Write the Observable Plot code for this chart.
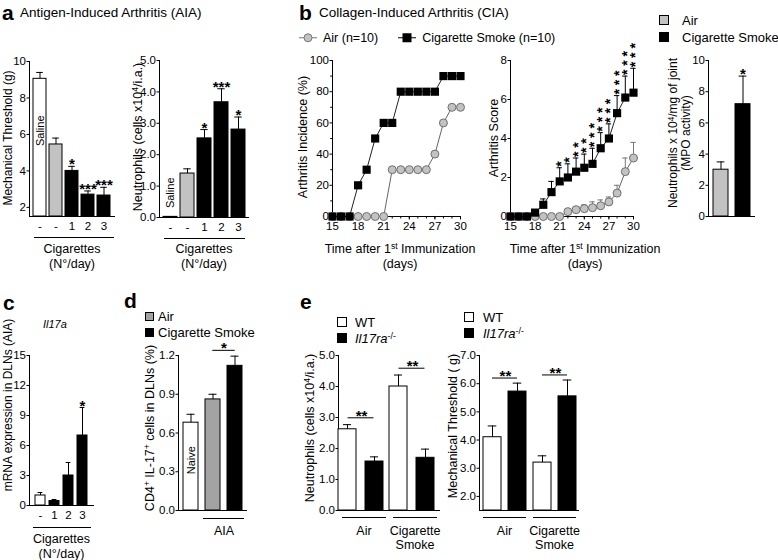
<!DOCTYPE html>
<html><head><meta charset="utf-8">
<script src="https://cdn.jsdelivr.net/npm/d3@7"></script>
<script src="https://cdn.jsdelivr.net/npm/@observablehq/plot@0.6"></script>
<style>
body{margin:0;background:#fff;}
#fig{position:relative;width:778px;height:560px;font-family:"Liberation Sans",Arial,Helvetica,sans-serif;color:#000;overflow:hidden;background:#fff}
.t{position:absolute;white-space:nowrap;line-height:1}
.rot{position:absolute;white-space:nowrap;line-height:1;text-align:center;transform:translate(-50%,-50%) rotate(-90deg)}
sup{font-size:0.68em;line-height:0;vertical-align:0.45em}
.sw{position:absolute;box-sizing:border-box;border:1px solid #000}
</style></head><body><div id="fig"></div>
<script>
// ================= DATA =================
// Panel a — Antigen-Induced Arthritis (AIA)
const aCategories = ["Saline", "Air", "1", "2", "3"];
const aTickLabels = ["-", "-", "1", "2", "3"];
const aTreatment = ["saline", "air", "smoke", "smoke", "smoke"];
const aThreshold = [9.05, 5.45, 4.0, 2.7, 2.65];
const aThresholdErr = [0.35, 0.35, 0.25, 0.2, 0.45];
const aThresholdSig = ["", "", "*", "***", "***"];
const aThresholdTicks = [2, 4, 6, 8, 10];
const aNeutrophils = [0.02, 1.4, 2.52, 3.67, 2.8];
const aNeutrophilsErr = [0, 0.15, 0.28, 0.43, 0.4];
const aNeutrophilsSig = ["", "", "*", "***", "*"];
const aNeutrophilsTicks = [0, 1, 2, 3, 4, 5];

// Panel b — Collagen-Induced Arthritis (CIA)
const bDays = [15, 16, 17, 18, 19, 20, 21, 22, 23, 24, 25, 26, 27, 28, 29, 30];
const bDayTicks = [15, 18, 21, 24, 27, 30];
const bIncidenceAir = [0, 0, 0, 0, 0, 0, 0, 30, 30, 30, 30, 30, 40, 60, 70, 70];
const bIncidenceSmoke = [0, 0, 0, 20, 30, 50, 60, 60, 80, 80, 80, 80, 80, 90, 90, 90];
const bIncidenceTicks = [0, 20, 40, 60, 80, 100];
const bIncidenceMinor = [10, 30, 50, 70, 90];
const bScoreAir = [0, 0, 0, 0, 0, 0, 0, 0.25, 0.35, 0.4, 0.45, 0.55, 0.75, 1.2, 2.3, 3.0];
const bScoreAirErr = [0, 0, 0, 0, 0, 0, 0, 0.1, 0.15, 0.2, 0.3, 0.3, 0.25, 0.4, 0.7, 0.8];
const bScoreSmoke = [0, 0, 0, 0.2, 0.6, 1.25, 1.8, 2.0, 2.3, 2.5, 2.7, 3.5, 4.0, 5.3, 6.1, 6.35];
const bScoreSmokeErr = [0, 0, 0, 0.1, 0.3, 0.55, 0.7, 0.7, 0.7, 0.7, 0.8, 0.8, 0.75, 0.9, 1.1, 1.25];
const bScoreSig = ["", "", "", "", "", "", "*", "*", "**", "**", "***", "***", "***", "***", "***", "***"];
const bScoreTicks = [0, 2, 4, 6, 8];
const bMpoGroups = ["Air", "Cigarette Smoke"];
const bMpoTreatment = ["air", "smoke"];
const bMpo = [3.0, 7.2];
const bMpoErr = [0.5, 1.8];
const bMpoSig = ["", "*"];
const bMpoTicks = [0, 2, 4, 6, 8, 10];

// Panel c — Il17a mRNA
const cCategories = ["none", "1", "2", "3"];
const cTickLabels = ["-", "1", "2", "3"];
const cTreatment = ["saline", "smoke", "smoke", "smoke"];
const cValues = [1.0, 0.45, 3.0, 7.0];
const cErr = [0.3, 0.15, 1.3, 2.8];
const cSig = ["", "", "", "*"];
const cTicks = [0, 3, 6, 9, 12, 15];

// Panel d — CD4+ IL-17+ cells
const dCategories = ["Naive", "Air", "Cigarette Smoke"];
const dTreatment = ["saline", "airD", "smoke"];
const dValues = [0.68, 0.86, 1.12];
const dErr = [0.065, 0.04, 0.075];
const dSig = "*";
const dTicks = [0, 0.3, 0.6, 0.9, 1.2];

// Panel e — WT vs Il17ra-/-
const eGroups = ["Air", "Cigarette Smoke"];
const eGroupLabels = ["Air", "Cigarette\nSmoke"];
const eGenotypes = ["WT", "KO"];
const eNeutroWT = [2.62, 4.0];
const eNeutroWTErr = [0.15, 0.37];
const eNeutroKO = [1.58, 1.7];
const eNeutroKOErr = [0.15, 0.28];
const eNeutroTicks = [0, 1, 2, 3, 4, 5];
const eThreshWT = [4.1, 3.2];
const eThreshWTErr = [0.4, 0.24];
const eThreshKO = [5.72, 5.55];
const eThreshKOErr = [0.3, 0.58];
const eThreshTicks = [2, 3, 4, 5, 6, 7];
const eSig = ["**", "**"];

// ================= HELPERS =================
const FONT = '"Liberation Sans", Arial, Helvetica, sans-serif';
const fig = document.getElementById("fig");
const STYLE = {fontFamily: FONT, fontSize: "11.5px", background: "transparent", color: "black", overflow: "visible"};
const COLORS = {domain: ["saline", "air", "airD", "smoke"], range: ["white", "#c2c2c2", "#a3a3a3", "black"]};
const TICK = {tickSize: 2.5, tickPadding: 1};

function framed(f, m) {
  return {width: m.l + (f.x1 - f.x0) + m.r, height: m.t + (f.y1 - f.y0) + m.b,
          marginLeft: m.l, marginRight: m.r, marginTop: m.t, marginBottom: m.b};
}
function mount(svg, f, m) {
  svg.style.position = "absolute";
  svg.style.left = (f.x0 - m.l) + "px";
  svg.style.top = (f.y0 - m.t) + "px";
  fig.appendChild(svg);
}
function band(width, n, pI, pO) {
  const step = width / (n - pI + 2 * pO);
  return {step, bw: step * (1 - pI)};
}
function txt(html, x, cy, size, css = "") {
  const el = document.createElement("div");
  el.className = "t";
  el.innerHTML = html;
  el.style.cssText += `left:${x}px;top:${cy}px;font-size:${size}px;transform:translateY(-50%);${css}`;
  fig.appendChild(el);
}
function ctxt(html, cx, cy, size, css = "") {
  const el = document.createElement("div");
  el.className = "t";
  el.innerHTML = html;
  el.style.cssText += `left:${cx}px;top:${cy}px;font-size:${size}px;text-align:center;line-height:1.2;transform:translate(-50%,-50%);${css}`;
  fig.appendChild(el);
}
function vlabel(html, cx, cy, size = 12.5, lh = 1) {
  const el = document.createElement("div");
  el.className = "rot";
  el.innerHTML = html;
  el.style.left = cx + "px"; el.style.top = cy + "px"; el.style.fontSize = size + "px"; el.style.lineHeight = lh;
  fig.appendChild(el);
}
function swatch(x, cy, s, fill) {
  const el = document.createElement("div");
  el.className = "sw";
  el.style.cssText += `left:${x}px;top:${cy - s / 2}px;width:${s}px;height:${s}px;background:${fill}`;
  fig.appendChild(el);
}

// Generic bar panel
function barPanel(c) {
  const {f, m, cats, labels, treat, values, errs, sigs, yDomain, yTicks, yFormat, pI, pO, extra = []} = c;
  const idx = d3.range(cats.length);
  const withErr = idx.filter(i => errs[i] > 0);
  const {bw} = band(f.x1 - f.x0, cats.length, pI, pO);
  const svg = Plot.plot({
    ...framed(f, m),
    style: STYLE,
    x: {domain: cats, paddingInner: pI, paddingOuter: pO, line: true, tickSize: 0, tickPadding: c.tickPadding ?? 5,
        tickFormat: labels ? (d => labels[cats.indexOf(d)]) : (() => ""), label: null},
    y: {domain: yDomain, ticks: yTicks, tickFormat: yFormat, line: true, ...TICK, label: null},
    color: COLORS,
    marks: [
      Plot.barY(idx, {x: i => cats[i], y1: yDomain[0], y2: i => values[i], fill: i => treat[i], stroke: "black", strokeWidth: 1}),
      Plot.ruleX(withErr, {x: i => cats[i], y1: i => values[i], y2: i => values[i] + errs[i], stroke: "black"}),
      Plot.tickY(withErr, {x: i => cats[i], y: i => values[i] + errs[i], insetLeft: bw * 0.24, insetRight: bw * 0.24, stroke: "black"}),
      Plot.text(idx.filter(i => sigs[i]), {x: i => cats[i], y: i => values[i] + errs[i], text: i => sigs[i],
        lineAnchor: "bottom", dy: 3, fontSize: 15, fontWeight: "bold"}),
      ...extra
    ]
  });
  mount(svg, f, m);
}

// ================= PANEL a =================
txt("a", 2, 12, 21, "font-weight:bold");
txt("Antigen-Induced Arthritis (AIA)", 20, 13, 13.5);

barPanel({
  f: {x0: 29, x1: 114, y0: 61, y1: 216}, m: {l: 27, r: 8, t: 14, b: 60},
  cats: aCategories, labels: aTickLabels, treat: aTreatment,
  values: aThreshold, errs: aThresholdErr, sigs: aThresholdSig,
  yDomain: [1.5, 10], yTicks: aThresholdTicks, pI: 0.2, pO: 0.15,
  extra: [
    Plot.text(["Saline"], {x: () => aCategories[0], y: () => 6.2, text: d => d, rotate: -90, fontSize: 11}),
    Plot.ruleY([1.5], {dy: 21, insetLeft: 5}),
    Plot.text(["Cigarettes\n(N°/day)"], {frameAnchor: "bottom", text: d => d, lineAnchor: "top", dy: 26, fontSize: 12.5, lineHeight: 1.2})
  ]
});
vlabel("Mechanical Threshold (g)", 8, 138, 12);

barPanel({
  f: {x0: 159, x1: 248, y0: 60, y1: 217}, m: {l: 27, r: 8, t: 14, b: 60},
  cats: aCategories, labels: aTickLabels, treat: aTreatment,
  values: aNeutrophils, errs: aNeutrophilsErr, sigs: aNeutrophilsSig,
  yDomain: [0, 5], yTicks: aNeutrophilsTicks, pI: 0.2, pO: 0.2,
  extra: [
    Plot.text(["Saline"], {x: () => aCategories[0], y: () => 0.3, text: d => d, rotate: -90, textAnchor: "start", fontSize: 11}),
    Plot.ruleY([0], {dy: 21, insetLeft: 5, insetRight: 3}),
    Plot.text(["Cigarettes\n(N°/day)"], {frameAnchor: "bottom", text: d => d, lineAnchor: "top", dy: 25, fontSize: 12.5, lineHeight: 1.2})
  ]
});
vlabel("Neutrophils (cells x10<sup>4</sup>/i.a.)", 138, 137);

// ================= PANEL b =================
txt("b", 299, 12, 21, "font-weight:bold");
txt("Collagen-Induced Arthritis (CIA)", 319, 13, 13.5);
// legend
(function () {
  const el = document.createElement("div");
  el.className = "t";
  el.style.cssText += "left:297px;top:38px;font-size:12.5px;transform:translateY(-50%);display:flex;align-items:center";
  el.innerHTML = `<svg width="22" height="12"><line x1="2" y1="6" x2="20" y2="6" stroke="#777"/><circle cx="11" cy="6" r="4" fill="#c2c2c2" stroke="#777"/></svg><span style="margin-left:4px">Air (n=10)</span>`
    + `<svg width="22" height="12" style="margin-left:18px"><line x1="2" y1="6" x2="20" y2="6" stroke="#000"/><rect x="6.5" y="1.5" width="9" height="9" fill="#000"/></svg><span style="margin-left:4px">Cigarette Smoke (n=10)</span>`;
  fig.appendChild(el);
})();

function timeAxes(yTicks, yMinor) {
  const marks = [
    Plot.axisY({ticks: yTicks, ...TICK, label: null}),
    Plot.axisX({ticks: bDayTicks, tickSize: 3.5, tickPadding: 2, label: null}),
    Plot.axisX({ticks: bDays, tickSize: 2.5, tickFormat: () => "", label: null}),
    Plot.ruleX([bDays[0]]),
    Plot.ruleY([0])
  ];
  if (yMinor) marks.push(Plot.axisY({ticks: yMinor, tickSize: 1.8, tickFormat: () => "", label: null}));
  return marks;
}
const dIdx = d3.range(bDays.length);

// b1 incidence
(function () {
  const f = {x0: 332, x1: 460, y0: 60, y1: 216}, m = {l: 32, r: 10, t: 10, b: 24};
  const svg = Plot.plot({
    ...framed(f, m), style: STYLE,
    x: {domain: [15, 30]}, y: {domain: [0, 100]},
    marks: [
      ...timeAxes(bIncidenceTicks, bIncidenceMinor),
      Plot.line(dIdx, {x: i => bDays[i], y: i => bIncidenceAir[i], stroke: "#666", strokeWidth: 1}),
      Plot.dot(dIdx, {x: i => bDays[i], y: i => bIncidenceAir[i], r: 4, fill: "#c2c2c2", stroke: "#707070", strokeWidth: 1}),
      Plot.line(dIdx, {x: i => bDays[i], y: i => bIncidenceSmoke[i], stroke: "#222", strokeWidth: 1}),
      Plot.dot(dIdx, {x: i => bDays[i], y: i => bIncidenceSmoke[i], symbol: "square", r: 4.6, fill: "black", stroke: "none"})
    ]
  });
  mount(svg, f, m);
})();
vlabel("Arthritis Incidence (%)", 303, 137);
ctxt("Time after 1<sup>st</sup> Immunization<br>(days)", 400, 257, 12.5);

// b2 score
(function () {
  const f = {x0: 510, x1: 633, y0: 60, y1: 216}, m = {l: 24, r: 10, t: 24, b: 24};
  const airE = dIdx.filter(i => bScoreAirErr[i] > 0), smE = dIdx.filter(i => bScoreSmokeErr[i] > 0);
  const svg = Plot.plot({
    ...framed(f, m), style: STYLE,
    x: {domain: [15, 30]}, y: {domain: [0, 8]},
    marks: [
      ...timeAxes(bScoreTicks),
      Plot.ruleX(airE, {x: i => bDays[i], y1: i => bScoreAir[i], y2: i => bScoreAir[i] + bScoreAirErr[i], stroke: "#777"}),
      Plot.ruleY(airE, {x1: i => bDays[i] - 0.33, x2: i => bDays[i] + 0.33, y: i => bScoreAir[i] + bScoreAirErr[i], stroke: "#777"}),
      Plot.line(dIdx, {x: i => bDays[i], y: i => bScoreAir[i], stroke: "#666", strokeWidth: 1}),
      Plot.dot(dIdx, {x: i => bDays[i], y: i => bScoreAir[i], r: 4, fill: "#c2c2c2", stroke: "#707070", strokeWidth: 1}),
      Plot.ruleX(smE, {x: i => bDays[i], y1: i => bScoreSmoke[i], y2: i => bScoreSmoke[i] + bScoreSmokeErr[i], stroke: "#000"}),
      Plot.ruleY(smE, {x1: i => bDays[i] - 0.33, x2: i => bDays[i] + 0.33, y: i => bScoreSmoke[i] + bScoreSmokeErr[i], stroke: "#000"}),
      Plot.line(dIdx, {x: i => bDays[i], y: i => bScoreSmoke[i], stroke: "#222", strokeWidth: 1}),
      Plot.dot(dIdx, {x: i => bDays[i], y: i => bScoreSmoke[i], symbol: "square", r: 4.6, fill: "black", stroke: "none"}),
      Plot.text(dIdx.filter(i => bScoreSig[i]), {x: i => bDays[i], y: i => bScoreSmoke[i] + bScoreSmokeErr[i],
        text: i => bScoreSig[i].split("").join(" "), rotate: -90, textAnchor: "start", dx: 2, dy: -1, fontSize: 14, fontWeight: "bold"})
    ]
  });
  mount(svg, f, m);
})();
vlabel("Arthritis Score", 494, 138);
ctxt("Time after 1<sup>st</sup> Immunization<br>(days)", 585, 257, 12.5);

// b3 MPO
swatch(659, 20, 10, "#c2c2c2"); txt("Air", 682, 20, 13);
swatch(659, 37, 10, "#000"); txt("Cigarette Smoke", 682, 37, 13);
barPanel({
  f: {x0: 708, x1: 754, y0: 60, y1: 216}, m: {l: 24, r: 6, t: 14, b: 10},
  cats: bMpoGroups, labels: null, treat: bMpoTreatment,
  values: bMpo, errs: bMpoErr, sigs: bMpoSig,
  yDomain: [0, 10], yTicks: bMpoTicks, pI: 0.32, pO: 0.2
});
vlabel("Neutrophils x 10<sup>4</sup>/mg of joint<br>(MPO activity)", 680, 133, 12, 1.05);

// ================= PANEL c =================
txt("c", 3, 302, 21, "font-weight:bold");
txt("Il17a", 43, 324, 11, "font-style:italic");
barPanel({
  f: {x0: 29, x1: 93, y0: 355, y1: 505}, m: {l: 22, r: 6, t: 14, b: 56},
  cats: cCategories, labels: cTickLabels, treat: cTreatment,
  values: cValues, errs: cErr, sigs: cSig,
  yDomain: [0, 15], yTicks: cTicks, pI: 0.26, pO: 0.3,
  extra: [
    Plot.ruleY([0], {dy: 22, insetLeft: 4, insetRight: 2}),
    Plot.text(["Cigarettes\n(N°/day)"], {frameAnchor: "bottom", text: d => d, lineAnchor: "top", dy: 27, fontSize: 12.5, lineHeight: 1.2})
  ]
});
vlabel("mRNA expression in DLNs (AIA)", 8, 405, 12);

// ================= PANEL d =================
txt("d", 124, 300, 21, "font-weight:bold");
swatch(145, 316, 9, "#a3a3a3"); txt("Air", 158, 316, 13);
swatch(145, 332, 9, "#000"); txt("Cigarette Smoke", 158, 332, 13);
(function () {
  const f = {x0: 178, x1: 246, y0: 355, y1: 510};
  const g = band(f.x1 - f.x0, dCategories.length, 0.34, 0.215);
  const bracketY = d3.max([1, 2], i => dValues[i] + dErr[i]) + 0.045;
  barPanel({
    f, m: {l: 30, r: 6, t: 20, b: 40},
    cats: dCategories, labels: null, treat: dTreatment,
    values: dValues, errs: dErr, sigs: ["", "", ""],
    yDomain: [0, 1.2], yTicks: dTicks, yFormat: d3.format(".1f"), pI: 0.34, pO: 0.215,
    extra: [
      Plot.text(["Naive"], {x: () => dCategories[0], y: () => 0.39, text: d => d, rotate: -90, fontSize: 11}),
      Plot.ruleY([bracketY], {x1: () => dCategories[1], x2: () => dCategories[2], insetLeft: g.bw / 2, insetRight: g.bw / 2}),
      Plot.text([dSig], {x: () => dCategories[1], y: () => bracketY, dx: g.step / 2, text: d => d, lineAnchor: "bottom", dy: 3, fontSize: 15, fontWeight: "bold"}),
      Plot.ruleY([0], {x1: () => dCategories[1], x2: () => dCategories[2], dy: 8, insetLeft: -2, insetRight: -2}),
      Plot.text(["AIA"], {x: () => dCategories[1], frameAnchor: "bottom", dx: g.step / 2, text: d => d, lineAnchor: "top", dy: 16, fontSize: 12.5})
    ]
  });
})();
vlabel("CD4<sup>+</sup> IL-17<sup>+</sup> cells in DLNs (%)", 150, 428);

// ================= PANEL e =================
txt("e", 300, 301, 21, "font-weight:bold");

function ePanel(c) {
  const {f, m, wt, wtErr, ko, koErr, yDomain, yTicks, pI, pO, align} = c;
  const rows = eGroups.flatMap((g, gi) => [
    {group: g, geno: eGenotypes[0], v: wt[gi], e: wtErr[gi]},
    {group: g, geno: eGenotypes[1], v: ko[gi], e: koErr[gi]}
  ]);
  const brackets = eGroups.map((g, gi) => ({group: g, sig: eSig[gi], y: Math.max(wt[gi] + wtErr[gi], ko[gi] + koErr[gi]) + c.gap}));
  const g = band((f.x1 - f.x0) / eGroups.length, 2, pI, pO);
  const svg = Plot.plot({
    ...framed(f, m), style: STYLE,
    fx: {domain: eGroups, padding: 0, axis: null},
    x: {domain: eGenotypes, paddingInner: pI, paddingOuter: pO, align, axis: null},
    y: {domain: yDomain, ticks: yTicks, line: true, ...TICK, label: null},
    color: {domain: eGenotypes, range: ["white", "black"]},
    marks: [
      Plot.ruleY([yDomain[0]]),
      Plot.barY(rows, {fx: "group", x: "geno", y1: yDomain[0], y2: "v", fill: "geno", stroke: "black"}),
      Plot.ruleX(rows, {fx: "group", x: "geno", y1: "v", y2: d => d.v + d.e, stroke: "black"}),
      Plot.tickY(rows, {fx: "group", x: "geno", y: d => d.v + d.e, insetLeft: g.bw * 0.26, insetRight: g.bw * 0.26, stroke: "black"}),
      Plot.ruleY(brackets, {fx: "group", x1: () => eGenotypes[0], x2: () => eGenotypes[1], y: "y", insetLeft: g.bw / 2, insetRight: g.bw / 2}),
      Plot.text(brackets, {fx: "group", x: () => eGenotypes[0], y: "y", dx: g.step / 2, text: "sig", lineAnchor: "bottom", dy: 3, fontSize: 15, fontWeight: "bold"}),
      Plot.ruleY(eGroups, {fx: d => d, y: yDomain[0], dy: 7, insetLeft: 4, insetRight: 3}),
      Plot.text(eGroups, {fx: d => d, frameAnchor: "bottom", text: d => eGroupLabels[eGroups.indexOf(d)], lineAnchor: "top", dy: 14, fontSize: 12.5, lineHeight: 1.15})
    ]
  });
  mount(svg, f, m);
}

swatch(337, 322, 10, "#fff"); txt("WT", 355, 322, 13);
swatch(337, 338, 10, "#000"); txt("<i>Il17ra</i><sup>-/-</sup>", 355, 338, 13);
ePanel({
  f: {x0: 337, x1: 440, y0: 355, y1: 510}, m: {l: 24, r: 6, t: 10, b: 45},
  wt: eNeutroWT, wtErr: eNeutroWTErr, ko: eNeutroKO, koErr: eNeutroKOErr,
  yDomain: [0, 5], yTicks: eNeutroTicks, pI: 0.32, pO: 0.08, align: 0, gap: 0.22
});
vlabel("Neutrophils (cells x10<sup>4</sup>/i.a.)", 310, 428);

swatch(464, 317, 10, "#fff"); txt("WT", 483, 317, 13);
swatch(464, 333, 10, "#000"); txt("<i>Il17ra</i><sup>-/-</sup>", 483, 333, 13);
ePanel({
  f: {x0: 478, x1: 579, y0: 355, y1: 510}, m: {l: 24, r: 6, t: 10, b: 45},
  wt: eThreshWT, wtErr: eThreshWTErr, ko: eThreshKO, koErr: eThreshKOErr,
  yDomain: [1.5, 7], yTicks: eThreshTicks, pI: 0.3, pO: 0.13, align: 0.5, gap: 0.18
});
vlabel("Mechanical Threshold ( g)", 453, 426);
</script></body></html>
